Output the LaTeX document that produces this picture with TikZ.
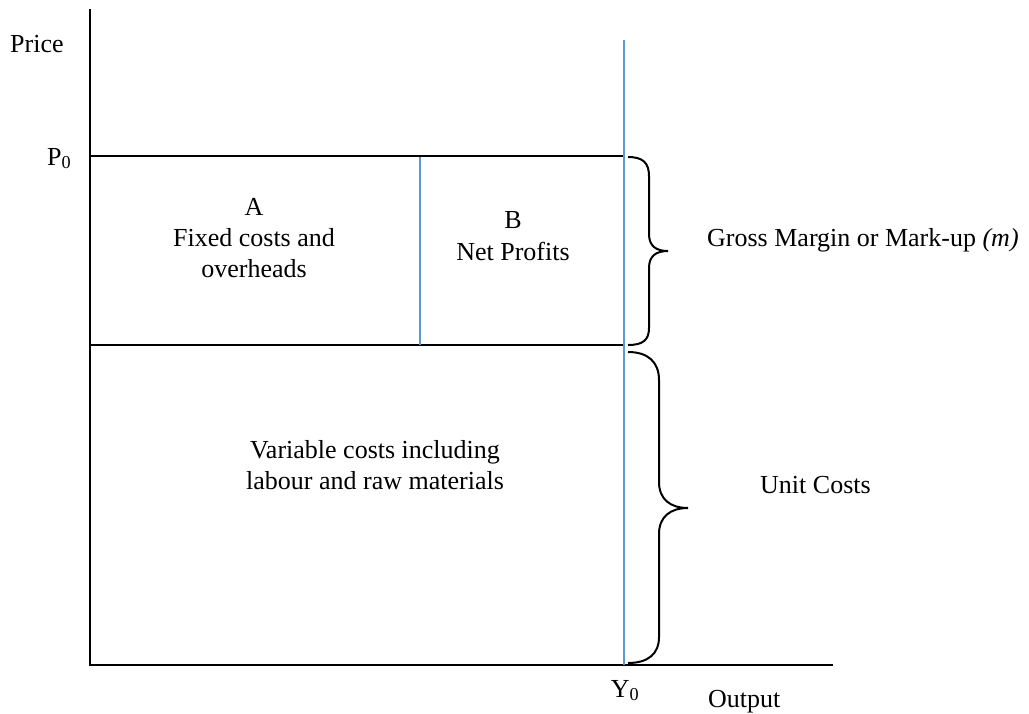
\documentclass[tikz,border=0pt]{standalone}
\usepackage{fontspec}
\setmainfont{Liberation Serif}
\definecolor{lineblue}{RGB}{91,155,213}
\begin{document}
\begin{tikzpicture}[x=1pt,y=-1pt,
  axisline/.style={line width=2pt,black},
  blueline/.style={line width=2pt,lineblue},
  bracepath/.style={line width=2pt,black},
  lbl/.style={font=\fontsize{26}{31}\selectfont,inner sep=0pt,anchor=base},
  lblw/.style={lbl,anchor=base west},
  cbox/.style={font=\fontsize{26}{31}\selectfont,inner sep=0pt,align=center,anchor=base}]
\useasboundingbox (0,0) rectangle (1029,713);
% key points
\coordinate (O) at (90,665);
\coordinate (ytop) at (90,9);
\coordinate (xend) at (833,665);
\coordinate (p0l) at (90,156);
\coordinate (p0r) at (625,156);
\coordinate (ml) at (90,345);
\coordinate (mr) at (625,345);
\coordinate (y0t) at (624,40);
\coordinate (y0b) at (624,665);
\coordinate (dt) at (420,157);
\coordinate (db) at (420,345);
% axes and lines
\draw[axisline] (ytop) -- (O) -- (xend);
\draw[axisline] (p0l) -- (p0r);
\draw[line width=1.6pt] (ml) -- (mr);
\draw[blueline] (y0t) -- (y0b);
\draw[blueline] (dt) -- (db);
% braces
\draw[bracepath] (628,157) .. controls (643,157) and (649,163) .. (649,176)
  -- (649,234) .. controls (649,246) and (656,251) .. (668,251)
  .. controls (656,251) and (649,256) .. (649,268)
  -- (649,328) .. controls (649,340) and (643,345) .. (628,345);
\draw[bracepath] (628,352) .. controls (648,352) and (659,362) .. (659,380)
  -- (659,482) .. controls (659,499) and (670,508) .. (688,508)
  .. controls (670,508) and (659,517) .. (659,534)
  -- (659,637) .. controls (659,654) and (648,663) .. (628,663);
% labels
\node[lblw] (price) at (10,52) {Price};
\node[lblw] (p0) at (47,165) {P\textsubscript{0}};
\node[lbl] (a) at (254,215) {A};
\node[lbl] (a2) at (254,246) {Fixed costs and};
\node[lbl] (a3) at (254,277) {overheads};
\node[lbl] (b) at (513,228) {B};
\node[lbl] (b2) at (513,260) {Net Profits};
\node[lblw] (gm) at (707,246) {Gross Margin or Mark-up \textit{(m)}};
\node[lbl] (v1) at (375,458) {Variable costs including};
\node[lbl] (v2) at (375,489) {labour and raw materials};
\node[lblw] (uc) at (760,493) {Unit Costs};
\node[lbl] (y0) at (625,697) {Y\textsubscript{0}};
\node[lblw] (out) at (708,707) {Output};
\end{tikzpicture}
\end{document}
